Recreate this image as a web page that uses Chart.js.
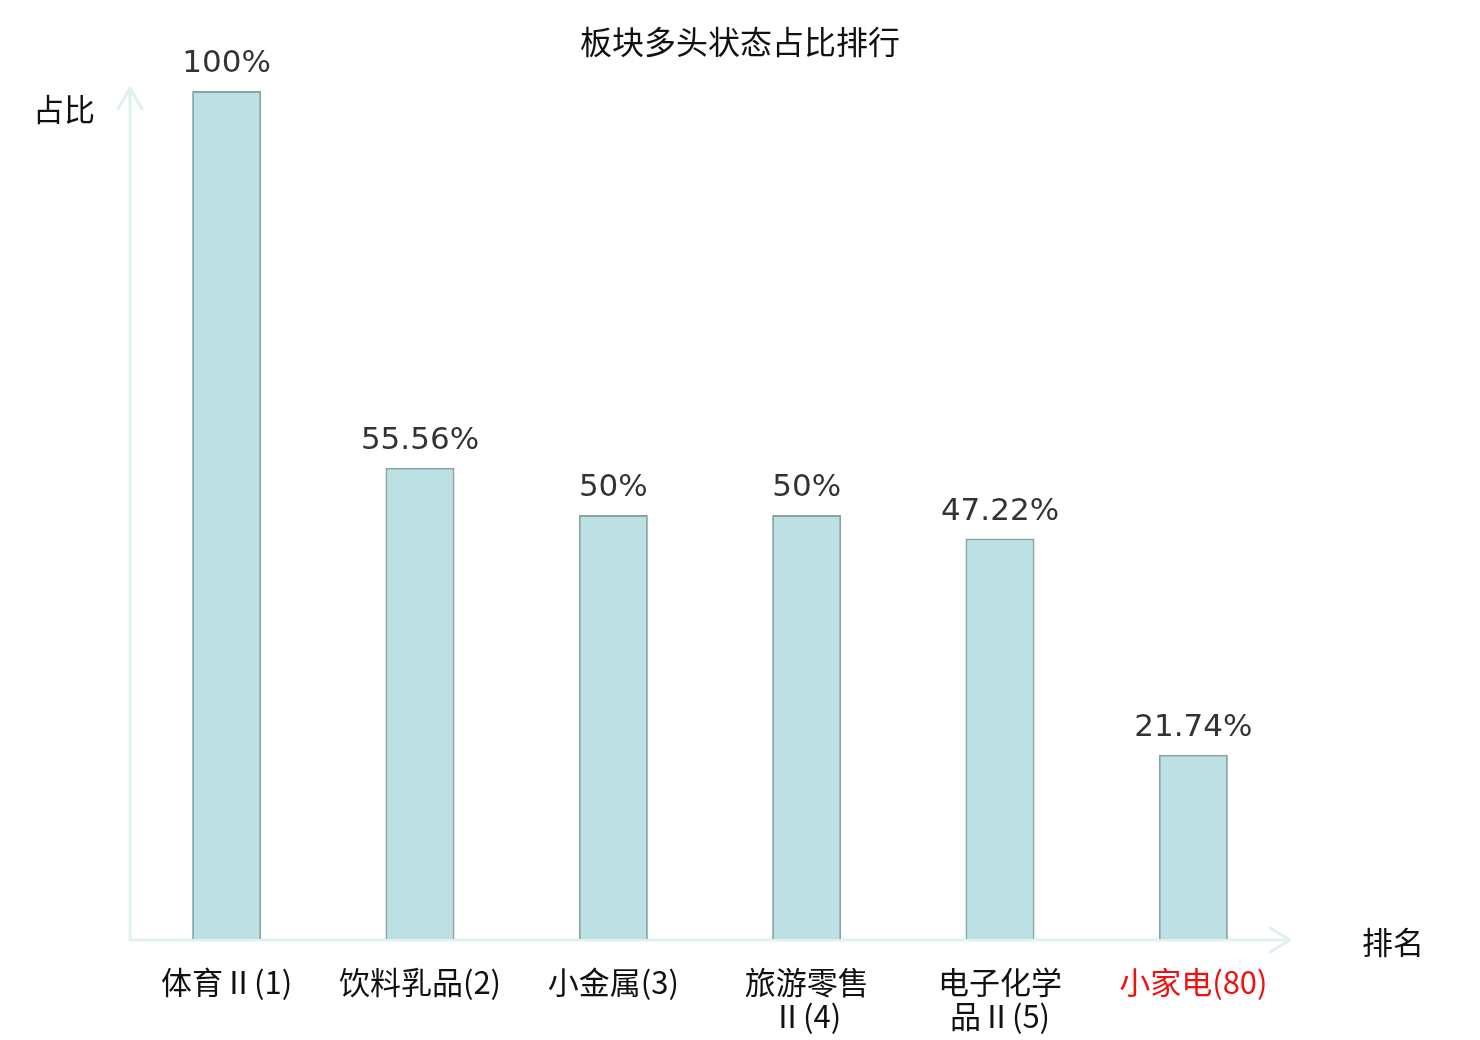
<!DOCTYPE html>
<html>
<head>
<meta charset="utf-8">
<script src="https://cdn.jsdelivr.net/npm/chart.js@4.4.0/dist/chart.umd.min.js"></script>
<style>
  html, body { margin: 0; padding: 0; background: #fff; }
  #wrap { width: 1480px; height: 1040px; }
</style>
</head>
<body>
<div id="wrap"><canvas id="bar-chart" width="1480" height="1040"></canvas></div>
<script>
// chart data
const categories = [
    ['体育Ⅱ(1)'],
    ['饮料乳品(2)'],
    ['小金属(3)'],
    ['旅游零售', 'Ⅱ(4)'],
    ['电子化学', '品Ⅱ(5)'],
    ['小家电(80)']
];
const ratioValues = [100, 55.56, 50, 50, 47.22, 21.74];
const valueLabels = ['100%', '55.56%', '50%', '50%', '47.22%', '21.74%'];
const highlightIndex = 5; // the one shown in red

const cjkFont = '"Noto Sans CJK SC", "DejaVu Sans", sans-serif';
const axisColor = '#dff2f0';

// draws the arrowed axes, axis names, title and value labels
const decorPlugin = {
    id: 'decor',
    beforeDatasetsDraw: function (chart) {
        const ctx = chart.ctx;
        const area = chart.chartArea;
        ctx.save();
        ctx.strokeStyle = axisColor;
        ctx.lineWidth = 3;
        ctx.lineCap = 'round';
        ctx.lineJoin = 'round';
        // y axis
        ctx.beginPath();
        ctx.moveTo(area.left, area.bottom + 1);
        ctx.lineTo(area.left, area.top - 3);
        ctx.moveTo(area.left - 12, area.top + 18);
        ctx.lineTo(area.left, area.top - 3);
        ctx.lineTo(area.left + 12, area.top + 18);
        // x axis
        ctx.moveTo(area.left, area.bottom + 1);
        ctx.lineTo(area.right, area.bottom + 1);
        ctx.moveTo(area.right - 20, area.bottom - 11);
        ctx.lineTo(area.right, area.bottom + 1);
        ctx.lineTo(area.right - 20, area.bottom + 13);
        ctx.stroke();
        ctx.restore();
    },
    afterDraw: function (chart) {
        const ctx = chart.ctx;
        const area = chart.chartArea;
        ctx.save();
        // title
        ctx.fillStyle = '#111';
        ctx.font = '32px ' + cjkFont;
        ctx.textAlign = 'center';
        ctx.textBaseline = 'middle';
        ctx.fillText('板块多头状态占比排行', chart.width / 2, 42);
        // axis names
        ctx.font = '31px ' + cjkFont;
        ctx.textAlign = 'left';
        ctx.fillText('占比', 33, area.top + 18);
        ctx.fillText('排名', area.right + 72, area.bottom + 3);
        // value labels
        ctx.fillStyle = '#333';
        ctx.font = '31px "DejaVu Sans", sans-serif';
        ctx.textAlign = 'center';
        ctx.textBaseline = 'alphabetic';
        const meta = chart.getDatasetMeta(0);
        meta.data.forEach(function (bar, i) {
            ctx.fillText(valueLabels[i], bar.x, bar.y - 19);
        });
        ctx.restore();
    }
};

const ctx = document.getElementById('bar-chart').getContext('2d');
const barChart = new Chart(ctx, {
    type: 'bar',
    data: {
        labels: categories,
        datasets: [
            {
                label: '占比',
                data: ratioValues,
                backgroundColor: '#bce0e3',
                borderColor: '#87a4a7',
                borderWidth: 2,
                barPercentage: 0.357,
                categoryPercentage: 1
            }
        ]
    },
    options: {
        responsive: false,
        animation: false,
        devicePixelRatio: 1,
        layout: {
            padding: { left: 130, right: 190, top: 91, bottom: 0 }
        },
        plugins: {
            legend: { display: false },
            tooltip: { enabled: false },
            title: { display: false }
        },
        scales: {
            y: {
                display: false,
                min: 0,
                max: 100
            },
            x: {
                grid: { display: false },
                border: { display: false },
                afterFit: function (scale) {
                    scale.height = 101;
                },
                ticks: {
                    padding: 19,
                    maxRotation: 0,
                    autoSkip: false,
                    color: function (c) {
                        return c.index === highlightIndex ? '#f01010' : '#111';
                    },
                    font: { size: 31, family: cjkFont, lineHeight: 1.07 }
                }
            }
        }
    },
    plugins: [decorPlugin]
});
</script>
</body>
</html>
